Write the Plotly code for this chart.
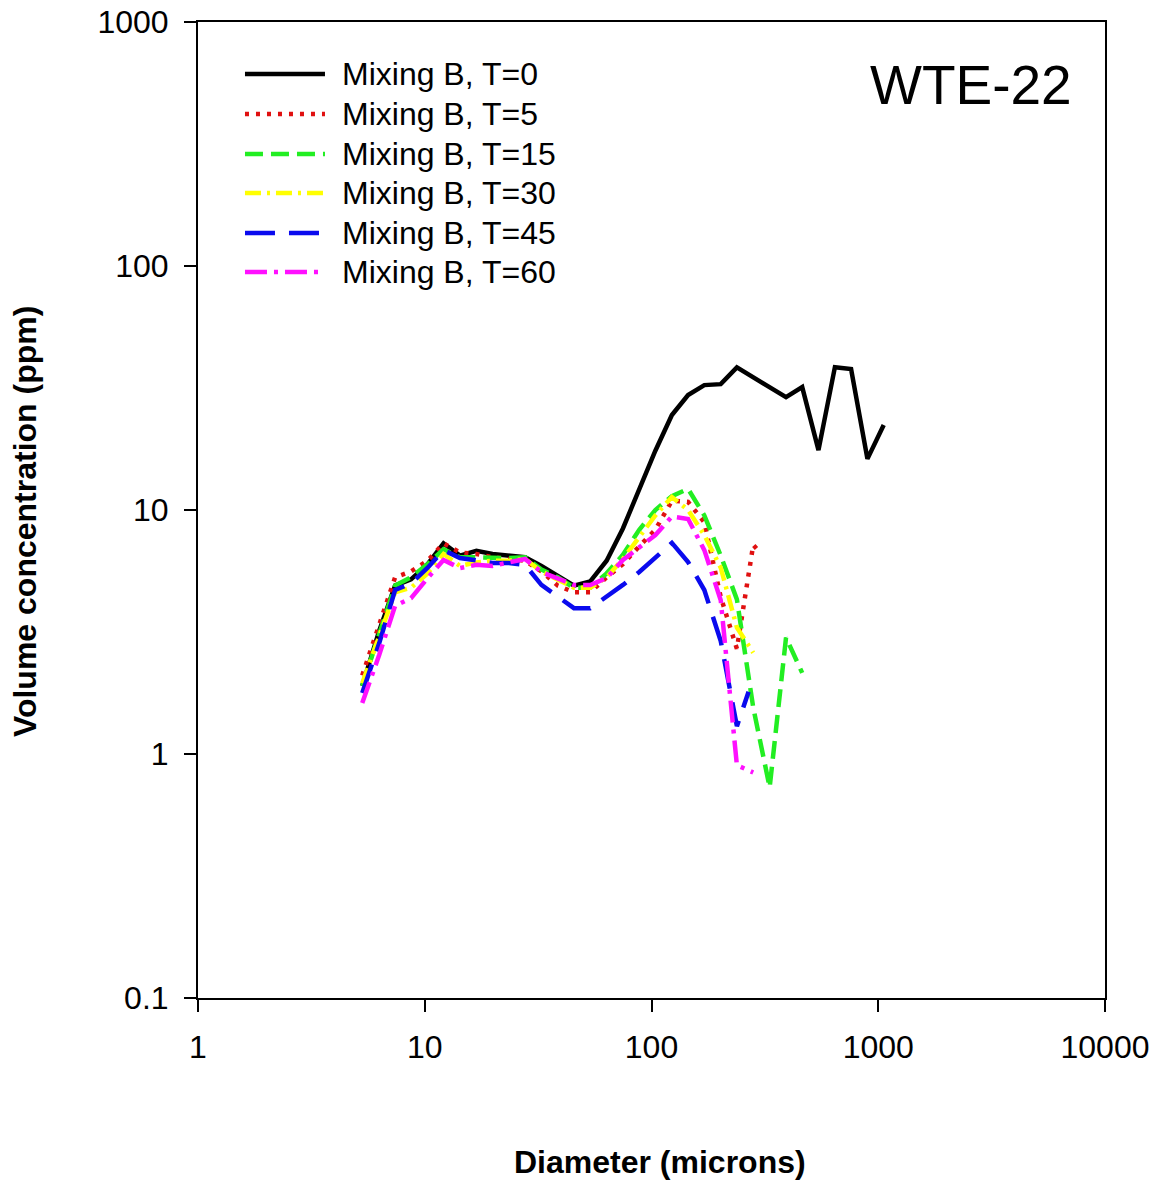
import plotly.graph_objects as go

# Particle size bins (microns)
diameter = [5.3, 6.3, 7.4, 8.7, 10.3, 12.1, 14.3, 16.9, 19.9, 23.5, 27.7, 32.7,
            38.6, 45.5, 53.7, 63.4, 74.8, 88.3, 104, 123, 145, 171, 202, 238,
            281, 332, 392, 462, 545, 644, 759, 896, 1057]

# Volume concentration (ppm) per mixing time
t0_x = diameter
t0_y = [1.9, 3.2, 4.9, 5.2, 6.0, 7.3, 6.5, 6.8, 6.6, 6.5, 6.4, 5.9, 5.4, 4.9,
        5.1, 6.2, 8.4, 12.1, 17.5, 24.5, 29.6, 32.5, 32.8, 38.4, 35.1, 31.9,
        29.0, 31.9, 17.6, 38.5, 37.8, 16.2, 22.3]

t5_x = diameter[:25] + [301]
t5_y = [2.1, 3.4, 5.3, 5.6, 6.2, 7.3, 6.7, 6.6, 6.4, 6.3, 6.2, 5.6, 4.9, 4.6,
        4.6, 5.3, 6.0, 7.1, 8.3, 10.9, 10.8, 8.9, 4.4, 2.7, 7.2, 6.7]

t15_x = diameter[:28]
t15_y = [1.9, 3.1, 4.9, 5.3, 6.0, 6.9, 6.4, 6.4, 6.35, 6.35, 6.4, 5.7, 5.3,
         4.8, 4.8, 5.5, 6.55, 8.3, 10.0, 11.4, 12.2, 9.5, 6.5, 4.3, 1.55,
         0.73, 3.0, 2.15]

t30_x = diameter[:25]
t30_y = [1.95, 3.0, 4.6, 4.8, 5.5, 6.6, 5.9, 6.1, 6.2, 6.2, 6.3, 5.6, 5.2,
         4.8, 4.8, 5.3, 6.3, 7.8, 9.5, 11.3, 10.0, 7.9, 5.8, 3.3, 2.6]

t45_x = diameter[:24] + [268]
t45_y = [1.78, 2.85, 4.7, 5.0, 5.8, 6.85, 6.36, 6.2, 6.07, 6.07, 5.96, 4.93,
         4.4, 3.96, 3.96, 4.4, 4.93, 5.57, 6.36, 7.33, 6.12, 4.7, 2.9, 1.3, 1.8]

t60_x = diameter[:25]
t60_y = [1.62, 2.55, 4.05, 4.35, 5.26, 6.24, 5.78, 5.96, 5.9, 6.07, 6.3, 5.57,
         5.26, 4.93, 4.93, 5.26, 6.24, 7.05, 7.9, 9.4, 9.18, 6.85, 4.27, 0.90,
         0.84]

labels = ["Mixing B, T=0", "Mixing B, T=5", "Mixing B, T=15",
          "Mixing B, T=30", "Mixing B, T=45", "Mixing B, T=60"]
xs = [t0_x, t5_x, t15_x, t30_x, t45_x, t60_x]
ys = [t0_y, t5_y, t15_y, t30_y, t45_y, t60_y]
colors = ["#000000", "#E01010", "#22EE22", "#FFFF00", "#0A0AEE", "#FF10FF"]
dashes = ["solid", "4px,7px", "18px,8px", "16px,6px,3px,6px",
          "30px,14px", "22px,7px,4px,7px"]

FONT = "Arial, Liberation Sans, sans-serif"

fig = go.Figure()
for x, y, name, c, d in zip(xs, ys, labels, colors, dashes):
    fig.add_trace(go.Scatter(x=x, y=y, mode="lines", name=name,
                             line=dict(color=c, width=4.5, dash=d),
                             showlegend=False))

# Hand-drawn key in the upper left of the plot area
row_y = [0.9467, 0.9057, 0.8648, 0.8248, 0.7838, 0.7439]
shapes = []
annotations = []
for name, c, d, ry in zip(labels, colors, dashes, row_y):
    shapes.append(dict(type="line", xref="paper", yref="paper",
                       x0=0.0518, x1=0.14, y0=ry, y1=ry,
                       line=dict(color=c, width=4.5, dash=d)))
    annotations.append(dict(x=0.1566, y=ry, xref="paper", yref="paper",
                            text=name, showarrow=False, xanchor="left",
                            yanchor="middle",
                            font=dict(family=FONT, size=32, color="black")))

annotations.append(dict(x=0.8523, y=0.9354, xref="paper", yref="paper",
                        text="WTE-22", showarrow=False, xanchor="center",
                        yanchor="middle",
                        font=dict(family=FONT, size=55, color="black")))
annotations.append(dict(x=0.5094, y=-0.168, xref="paper", yref="paper",
                        text="<b>Diameter (microns)</b>", showarrow=False,
                        xanchor="center", yanchor="middle",
                        font=dict(family=FONT, size=32, color="black")))
annotations.append(dict(x=-0.1907, y=0.4877, xref="paper", yref="paper",
                        text="<b>Volume concentration (ppm)</b>",
                        showarrow=False, textangle=-90,
                        xanchor="center", yanchor="middle",
                        font=dict(family=FONT, size=32, color="black")))

axis_common = dict(showgrid=False, zeroline=False, showline=True,
                   linecolor="black", linewidth=2, mirror=True,
                   ticks="outside", ticklen=12, tickwidth=2,
                   tickcolor="black", automargin=False,
                   tickfont=dict(family=FONT, size=32, color="black"))

fig.update_layout(
    width=1157, height=1184,
    margin=dict(l=198, r=52, t=22, b=186),
    paper_bgcolor="white", plot_bgcolor="white",
    xaxis=dict(type="log", range=[0, 4],
               tickvals=[1, 10, 100, 1000, 10000],
               ticktext=["1", "10", "100", "1000", "10000"],
               ticklabelstandoff=8, **axis_common),
    yaxis=dict(type="log", range=[-1, 3],
               tickvals=[0.1, 1, 10, 100, 1000],
               ticktext=["0.1", "1", "10", "100", "1000"],
               ticklabelstandoff=9, **axis_common),
    shapes=shapes,
    annotations=annotations,
)

fig.write_html("out.html")
